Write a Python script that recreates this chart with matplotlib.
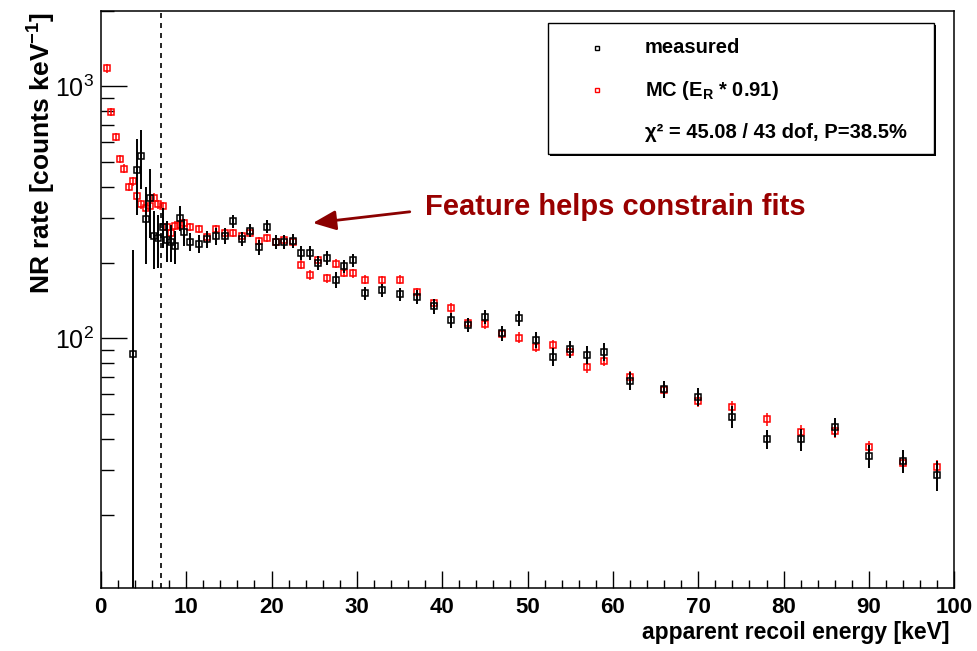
import numpy as np
import matplotlib
matplotlib.use("Agg")
import matplotlib.pyplot as plt
from matplotlib.ticker import MultipleLocator, LogLocator, NullFormatter
from matplotlib.patches import Rectangle

plt.rcParams['font.family'] = ['Liberation Sans', 'DejaVu Sans']
plt.rcParams['mathtext.fontset'] = 'custom'
plt.rcParams['mathtext.rm'] = 'Liberation Sans'
plt.rcParams['mathtext.bf'] = 'Liberation Sans:bold'
plt.rcParams['mathtext.it'] = 'Liberation Sans:italic'

# Bin centres [keV]: 0.5 keV bins to 10, 1 keV to 30, 2 keV to 60, 4 keV to 100
energy_keV = [0.75, 1.25, 1.75, 2.25, 2.75, 3.25, 3.75, 4.25, 4.75, 5.25,
              5.75, 6.25, 6.75, 7.25, 7.75, 8.25, 8.75, 9.25, 9.75,
              10.5, 11.5, 12.5, 13.5, 14.5, 15.5, 16.5, 17.5, 18.5, 19.5,
              20.5, 21.5, 22.5, 23.5, 24.5, 25.5, 26.5, 27.5, 28.5, 29.5,
              31, 33, 35, 37, 39, 41, 43, 45, 47, 49, 51, 53, 55, 57, 59,
              62, 66, 70, 74, 78, 82, 86, 90, 94, 98]

# Monte Carlo prediction (E_R scaled by 0.91)
mc_rate = [1180, 790, 630, 515, 472, 400, 420, 368, 340, 330,
           335, 362, 340, 335, 278, 262, 280, 282, 286,
           276, 272, 252, 272, 262, 262, 256, 262, 243, 250,
           242, 245, 242, 196, 179, 205, 173, 198, 182, 181,
           171, 170, 171, 153, 138, 132, 115, 114, 104, 100.7, 92.7, 94, 88, 77, 81.7,
           70.5, 62.5, 56.5, 53.3, 47.9, 42.7, 43, 37, 32, 30.8]
mc_err = [45, 30, 24, 20, 18, 15, 16, 14, 13, 13,
          13, 14, 13, 13, 11, 10, 11, 11, 11,
          10, 10, 9, 10, 9, 9, 9, 9, 9, 9,
          9, 9, 9, 8, 8, 8, 7, 8, 7, 7,
          7, 7, 7, 6, 6, 6, 5, 5, 5, 5, 4.5, 4.5, 4.5, 4, 4,
          3.5, 3.2, 3, 3, 2.8, 2.6, 2.6, 2.3, 2.1, 2.0]

# Measured spectrum (first populated bin at 3.75 keV)
meas_energy_keV = [3.75, 4.25, 4.75, 5.25, 5.75, 6.25, 6.75, 7.25, 7.75, 8.25,
                   8.75, 9.25, 9.75,
                   10.5, 11.5, 12.5, 13.5, 14.5, 15.5, 16.5, 17.5, 18.5, 19.5,
                   20.5, 21.5, 22.5, 23.5, 24.5, 25.5, 26.5, 27.5, 28.5, 29.5,
                   31, 33, 35, 37, 39, 41, 43, 45, 47, 49, 51, 53, 55, 57, 59,
                   62, 66, 70, 74, 78, 82, 86, 90, 94, 98]
meas_rate = [87, 464, 531, 297, 360, 254, 250, 278, 246, 241,
             233, 301, 265,
             242, 238, 248, 254, 255, 292, 248, 268, 230, 278,
             242, 242, 244, 218, 218, 200, 209, 171, 193, 204,
             151, 155, 150, 146, 134, 118, 113, 122, 105, 120, 98.6, 84.7, 90.6, 86, 88.7,
             68, 62.8, 58.7, 49, 39.8, 39.8, 44.5, 34.2, 32.7, 28.7]
meas_err = [137, 155, 140, 100, 110, 65, 60, 50, 45, 40,
            35, 35, 32,
            20, 20, 20, 20, 18, 18, 16, 16, 16, 16,
            15, 15, 15, 14, 14, 13, 13, 12, 12, 12,
            9, 9, 9, 9, 9, 8, 7, 8, 7, 8, 7, 7, 7, 7, 7,
            5.5, 5, 5, 5, 3.5, 4, 4, 3.7, 3.5, 3.8]

threshold_keV = 7.1

W, H = 977, 651
fig = plt.figure(figsize=(W / 100, H / 100), dpi=100)
ax_l, ax_r, ax_t, ax_b = 100.8, 954.3, 10.5, 588.3
ax = fig.add_axes([ax_l / W, 1 - ax_b / H, (ax_r - ax_l) / W, (ax_b - ax_t) / H])
ax.set_yscale('log')
ax.set_xlim(0, 100)
ax.set_ylim(10.2, 2000)

ax.errorbar(energy_keV, mc_rate, yerr=mc_err, fmt='s', mfc='none', mec='#ff0000',
            ms=5, mew=1.1, ecolor='#ff0000', elinewidth=1.1, capsize=0, zorder=3)
ax.errorbar(meas_energy_keV, meas_rate, yerr=meas_err, fmt='s', mfc='none', mec='black',
            ms=5, mew=1.1, ecolor='black', elinewidth=1.4, capsize=0, zorder=4)

ax.axvline(threshold_keV, color='black', ls=(0, (3, 3)), lw=1.2, zorder=2)

# Axis ticks
ax.xaxis.set_major_locator(MultipleLocator(10))
ax.xaxis.set_minor_locator(MultipleLocator(2))
ax.yaxis.set_major_locator(LogLocator(base=10))
ax.yaxis.set_minor_locator(LogLocator(base=10, subs=np.arange(2, 10)))
ax.yaxis.set_minor_formatter(NullFormatter())
ax.tick_params(axis='x', which='major', direction='in', length=12, width=1.0,
               top=False, labelsize=16, pad=6)
ax.tick_params(axis='x', which='minor', direction='in', length=6, width=1.0, top=False)
ax.tick_params(axis='y', which='major', direction='in', length=19, width=1.0,
               right=False, labelsize=18, pad=5)
ax.tick_params(axis='y', which='minor', direction='in', length=9.5, width=1.0, right=False)
plt.setp(ax.get_xticklabels(), fontweight='bold')
for sp in ax.spines.values():
    sp.set_linewidth(1.1)

fig.text(42 / W, 1 - 12 / H, r"NR rate [counts keV$^{\mathbf{-1}}$]", rotation=90,
         ha='center', va='top', fontsize=19, fontweight='bold')
fig.text(950 / W, 1 - 632 / H, "apparent recoil energy [keV]", ha='right', va='center',
         fontsize=16.5, fontweight='bold')

# Legend box with shadow
bx, by, bw, bh = 0.5243, 0.7516, 0.4523, 0.2262
ax.add_patch(Rectangle((bx + 0.002, by - 0.003), bw, bh, transform=ax.transAxes,
                       facecolor='black', edgecolor='none', zorder=6))
ax.add_patch(Rectangle((bx, by), bw, bh, transform=ax.transAxes,
                       facecolor='white', edgecolor='black', lw=1.0, zorder=7))
ax.plot([0.5814], [0.9351], 's', mfc='none', mec='black', ms=3.5, mew=1.0,
        transform=ax.transAxes, zorder=8)
ax.plot([0.5814], [0.8624], 's', mfc='none', mec='#ff0000', ms=3.5, mew=1.0,
        transform=ax.transAxes, zorder=8)
ax.text(0.6375, 0.9351, "measured", transform=ax.transAxes, va='center',
        fontsize=14.5, fontweight='bold', zorder=8)
ax.text(0.6375, 0.8624, r"MC (E$_{\mathbf{R}}$ * 0.91)", transform=ax.transAxes, va='center',
        fontsize=14.5, fontweight='bold', zorder=8)
ax.text(0.6375, 0.788, "χ² = 45.08 / 43 dof, P=38.5%", transform=ax.transAxes, va='center',
        fontsize=14.5, fontweight='bold', zorder=8)

# Annotation pointing at the spectral feature
ax.annotate("", xy=(24.85, 287), xytext=(36.2, 318),
            arrowprops=dict(arrowstyle='-|>,head_length=0.7,head_width=0.3',
                            color='#8b0000', lw=2, mutation_scale=20,
                            shrinkA=0, shrinkB=0), zorder=5)
ax.text(37.97, 309, "Feature helps constrain fits", color='#990000', fontsize=21,
        fontweight='bold', va='baseline', zorder=5)

fig.savefig("out.png", dpi=100)
